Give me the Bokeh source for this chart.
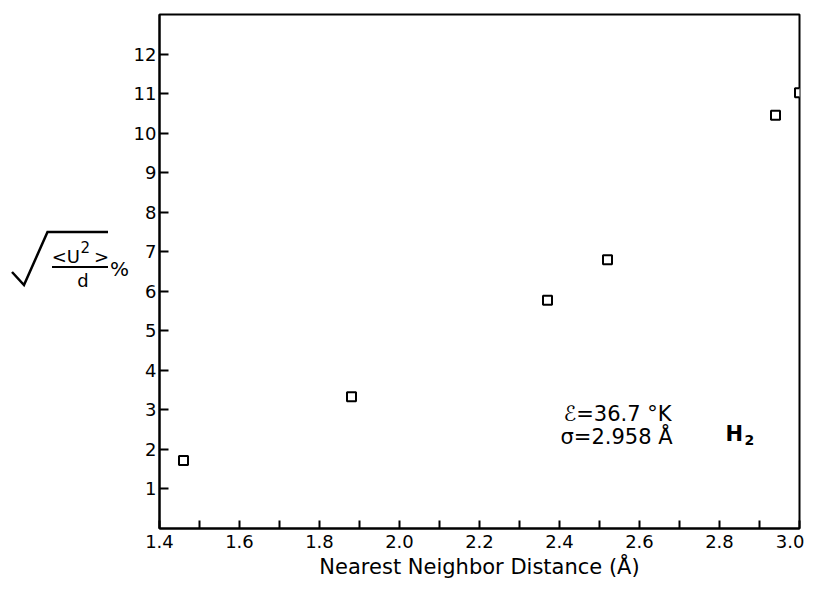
from bokeh.plotting import figure
from bokeh.embed import file_html
from bokeh.resources import INLINE
from bokeh.layouts import row
from bokeh.models import FixedTicker, Label, PrintfTickFormatter, ColumnDataSource, Div

# ---- data ----
distance = [1.46, 1.88, 2.37, 2.52, 2.94, 3.00]
rms_pct = [1.72, 3.33, 5.77, 6.80, 10.45, 11.02]
x_ticks = [1.4, 1.6, 1.8, 2.0, 2.2, 2.4, 2.6, 2.8, 3.0]
x_minor = [1.5, 1.7, 1.9, 2.1, 2.3, 2.5, 2.7, 2.9]
y_ticks = [1, 2, 3, 4, 5, 6, 7, 8, 9, 10, 11, 12]

FONT = "DejaVu Sans"
X0, X1, Y0, Y1 = 1.4, 3.0, 0.0, 13.0
FL, FR, FT, FB = 159, 799, 14, 528  # frame edges in page px
LEFT_W = 130
TOTAL_H = 584

def dx(X):
    return X0 + (X - FL) * (X1 - X0) / (FR - FL)

def dy(Y):
    return Y0 + (FB - Y) * (Y1 - Y0) / (FB - FT)

# ---------- main plot ----------
p = figure(frame_width=FR - FL, frame_height=FB - FT, x_range=(X0, X1), y_range=(Y0, Y1),
           output_backend="svg", toolbar_location=None, title=None,
           min_border_left=FL - LEFT_W, min_border_right=5, min_border_top=FT,
           min_border_bottom=TOTAL_H - FB)
p.xgrid.visible = False
p.ygrid.visible = False
p.outline_line_color = "black"
p.outline_line_width = 2
p.outline_line_alpha = 1.0

for ax in (p.xaxis[0], p.yaxis[0]):
    ax.axis_line_width = 2
    ax.axis_line_color = "black"
    ax.major_tick_line_width = 2
    ax.minor_tick_line_width = 2
    ax.major_tick_line_color = "black"
    ax.minor_tick_line_color = "black"
    ax.major_tick_out = 0
    ax.minor_tick_out = 0
    ax.major_label_text_font = FONT
    ax.major_label_text_font_size = "18px"
    ax.major_label_text_color = "black"

p.xaxis.ticker = FixedTicker(ticks=x_ticks, minor_ticks=x_minor)
p.xaxis.formatter = PrintfTickFormatter(format="%.1f")
p.xaxis.major_tick_in = 8
p.xaxis.minor_tick_in = 8
p.xaxis.major_label_standoff = 6
p.xaxis.axis_label = "Nearest Neighbor Distance (Å)"
p.xaxis.axis_label_text_font = FONT
p.xaxis.axis_label_text_font_size = "21px"
p.xaxis.axis_label_text_font_style = "normal"
p.xaxis.axis_label_text_color = "black"
p.xaxis.axis_label_standoff = 4

p.yaxis.ticker = FixedTicker(ticks=y_ticks, minor_ticks=[])
p.yaxis.major_tick_in = 9
p.yaxis.minor_tick_in = 0
p.yaxis.major_label_standoff = 3

src = ColumnDataSource(dict(x=distance, y=rms_pct))
p.scatter("x", "y", source=src, marker="square", size=9, fill_color="white",
          line_color="black", line_width=2)

def lab(text, X, Y, size, align="left", style="normal"):
    p.add_layout(Label(x=dx(X), y=dy(Y), text=text, text_align=align,
                       text_baseline="alphabetic", text_font=FONT,
                       text_font_size=f"{size}px", text_font_style=style,
                       text_color="black"))

lab("ℰ=36.7 °K", 563, 413, 21)
lab("σ=2.958 Å", 560, 436, 21)
lab("H", 725, 433, 21, style="bold")
lab("2", 744, 439, 14, style="bold")

# ---------- y axis title panel: sqrt(<U^2>/d) % ----------
rad_pts = "12,272 24,285 47.5,232 108,232"
svg = f"""
<svg xmlns="http://www.w3.org/2000/svg" width="{LEFT_W}" height="{TOTAL_H}"
     style="display:block;overflow:visible;font-family:'{FONT}';fill:black">
  <polyline points="{rad_pts}" fill="none" stroke="black" stroke-width="2.5"
            stroke-linejoin="miter"/>
  <text x="80" y="263" font-size="18" text-anchor="end">&lt;U</text>
  <text x="80.5" y="253" font-size="15">2</text>
  <text x="94" y="263" font-size="18">&gt;</text>
  <line x1="52" y1="267" x2="108" y2="267" stroke="black" stroke-width="2"/>
  <text x="83" y="287" font-size="18" text-anchor="middle">d</text>
  <text x="110" y="276" font-size="20">%</text>
</svg>
"""
ylab = Div(text=svg, width=LEFT_W, height=TOTAL_H, margin=0,
           styles={"padding": "0", "margin": "0"})

layout = row(ylab, p, spacing=0)
open("out.html", "w").write(file_html(layout, INLINE))
